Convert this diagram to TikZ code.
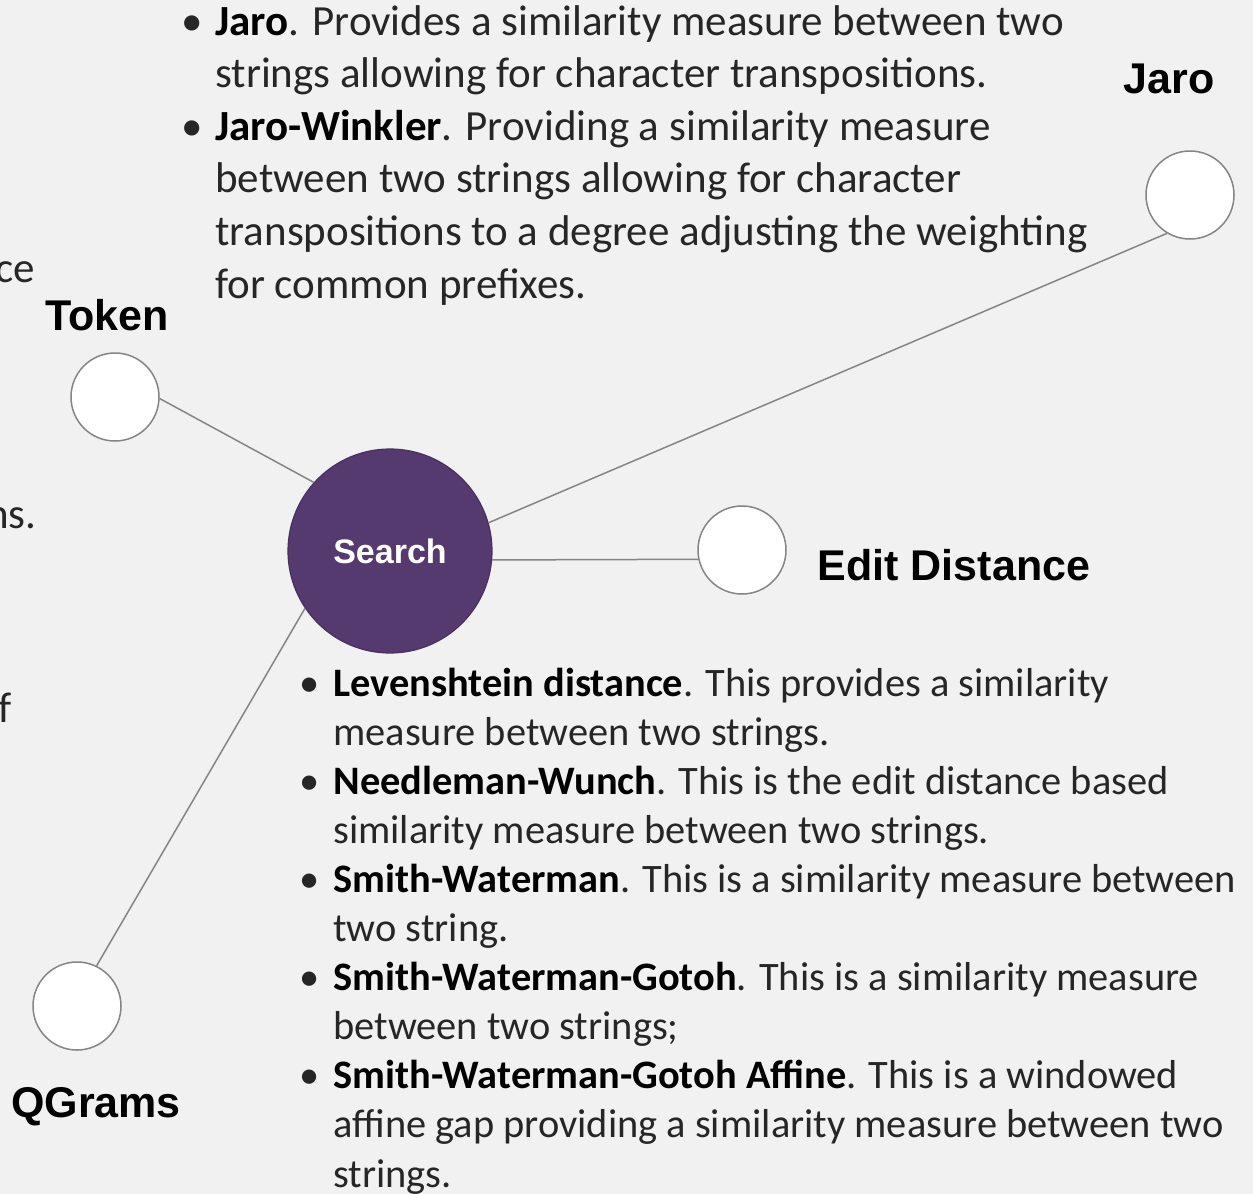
\documentclass[tikz,border=0pt]{standalone}
\usepackage{fontspec}
\setmainfont{Carlito}
\newfontfamily\arialfont{Liberation Sans}

\definecolor{bgcol}{HTML}{F1F1F1}
\definecolor{hubcol}{HTML}{553A70}
\definecolor{linecol}{HTML}{858585}
\definecolor{txtcol}{HTML}{262626}

\newcommand{\bul}{\makebox[17pt][l]{\textbullet}}
\newcommand{\ind}{\hspace*{17pt}}

\tikzset{
	hub/.style={circle, fill=hubcol, draw=hubcol!85!black, line width=0.6pt, minimum size=102pt, inner sep=0pt,
		text=white, font=\arialfont\bfseries\fontsize{17}{20}\selectfont},
	leaf/.style={circle, fill=white, draw=linecol, line width=0.75pt, minimum size=44pt, inner sep=0pt},
	lbl/.style={anchor=base, inner sep=0pt, font=\arialfont\bfseries\fontsize{21.5}{24}\selectfont},
	link/.style={draw=linecol, line width=0.75pt},
	notes/.style={anchor=base west, inner sep=0pt, align=left, text=txtcol},
}

\begin{document}
\begin{tikzpicture}[x=0.5pt, y=-0.5pt]
	\useasboundingbox[fill=bgcol] (0,0) rectangle (1253,1194);
	
	\begin{scope}
		\clip (0,0) rectangle (1253,1194);
		\node[notes, anchor=base east, font=\fontsize{21.5}{26.3}\selectfont] (cut1) at (35,282) {ce};
		\node[notes, anchor=base east, font=\fontsize{21.5}{26.3}\selectfont] (cut2) at (37,528) {ns.};
		\node[notes, anchor=base east, font=\fontsize{21.5}{26.3}\selectfont] (cut3) at (12,722) {f};
	\end{scope}
	
	\node[hub] (search) at (390,551) {Search};
	\node[leaf] (token) at (115,397) {};
	\node[leaf] (jaro) at (1190,195) {};
	\node[leaf] (edit) at (742,550) {};
	\node[leaf] (qgrams) at (77,1006) {};
	
	\node[lbl] (tokentxt) at (107,330) {Token};
	\node[lbl] (jarotxt) at (1169,93) {Jaro};
	\node[lbl] (edittxt) at (954,580) {Edit Distance};
	\node[lbl] (qgramstxt) at (96,1117) {QGrams};
	
	\draw[link] (token.-2) -- (search.138);
	\draw[link] (jaro.239) -- (search.16);
	\draw[link] (edit.192) -- (search.-5);
	\draw[link] (qgrams.64) -- (search.214);
	
	% the base of a multi-line node is its last line
	\node[notes, font=\fontsize{21.5}{26.3}\selectfont] (jaronotes) at (181,298) {%
		\bul\textbf{\color{black}Jaro}. Provides a similarity measure between two\\
		\ind strings allowing for character transpositions.\\
		\bul\textbf{\color{black}Jaro-Winkler}. Providing a similarity measure\\
		\ind between two strings allowing for character\\
		\ind transpositions to a degree adjusting the weighting\\
		\ind for common prefixes.};
	
	\node[notes, font=\fontsize{20.2}{24.55}\selectfont] (editnotes) at (299,1187) {%
		\bul\textbf{\color{black}Levenshtein distance}. This provides a similarity\\
		\ind measure between two strings.\\
		\bul\textbf{\color{black}Needleman-Wunch}. This is the edit distance based\\
		\ind similarity measure between two strings.\\
		\bul\textbf{\color{black}Smith-Waterman}. This is a similarity measure between\\
		\ind two string.\\
		\bul\textbf{\color{black}Smith-Waterman-Gotoh}. This is a similarity measure\\
		\ind between two strings;\\
		\bul\textbf{\color{black}Smith-Waterman-Gotoh Affine}. This is a windowed\\
		\ind affine gap providing a similarity measure between two\\
		\ind strings.};
\end{tikzpicture}
\end{document}
